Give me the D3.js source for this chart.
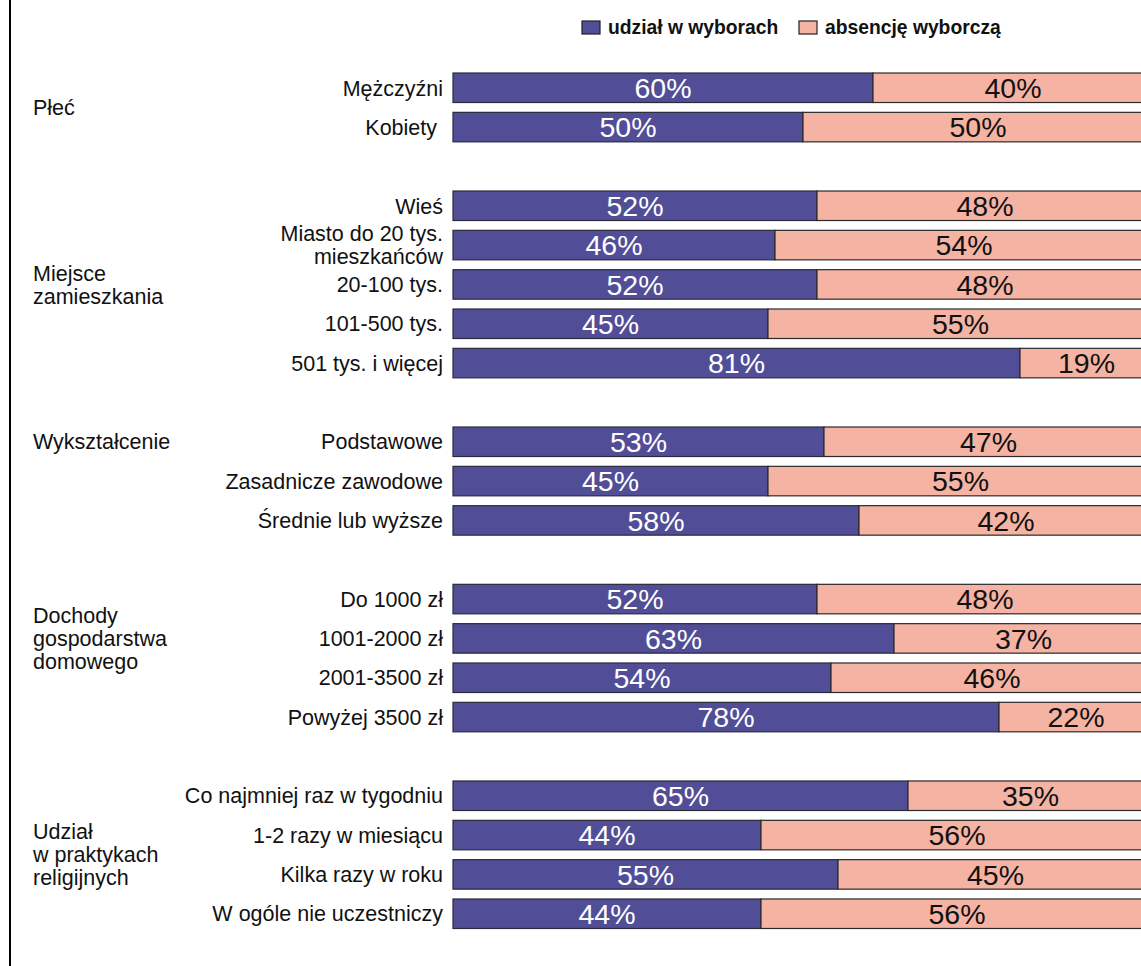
<!DOCTYPE html>
<html>
<head>
<meta charset="utf-8">
<script src="https://cdn.jsdelivr.net/npm/d3@7"></script>
<style>
  html, body { margin: 0; padding: 0; background: #fff; }
  svg { display: block; font-family: "Liberation Sans", Arial, sans-serif; }
</style>
</head>
<body>
<svg id="chart" width="1141" height="966"></svg>
<script>
// ---- data ----
const categories = [
  "Mężczyźni", "Kobiety\u00a0", "",
  "Wieś", "Miasto do 20 tys.\nmieszkańców", "20-100 tys.", "101-500 tys.", "501 tys. i więcej", "",
  "Podstawowe", "Zasadnicze zawodowe", "Średnie lub wyższe", "",
  "Do 1000 zł", "1001-2000 zł", "2001-3500 zł", "Powyżej 3500 zł", "",
  "Co najmniej raz w tygodniu", "1-2 razy w miesiącu", "Kilka razy w roku", "W ogóle nie uczestniczy"
];
const udzial = [60, 50, null, 52, 46, 52, 45, 81, null, 53, 45, 58, null, 52, 63, 54, 78, null, 65, 44, 55, 44];
const absencja = [40, 50, null, 48, 54, 48, 55, 19, null, 47, 55, 42, null, 48, 37, 46, 22, null, 35, 56, 45, 56];
const groups = ["Płeć", "Miejsce\nzamieszkania", "Wykształcenie", "Dochody\ngospodarstwa\ndomowego", "Udział\nw praktykach\nreligijnych"];
const groupAnchorRow = [0.5, 5, 9, 14, 19.5];
const seriesNames = ["udział w wyborach", "absencję wyborczą"];
const colors = ["#514e97", "#f5b3a4"];

// ---- layout ----
const svg = d3.select("#chart");
const x = d3.scaleLinear().domain([0, 100]).range([453, 1153]);
const y = d3.scaleBand().domain(d3.range(categories.length)).range([68.1, 933.4])
  .paddingInner(0.25).paddingOuter(0.125);
const bw = y.bandwidth();
const yc = i => y(i) + bw / 2;
const yAt = r => y(0) + r * y.step() + bw / 2;

// frame line on the left
svg.append("line").attr("x1", 10).attr("x2", 10).attr("y1", 0).attr("y2", 966)
  .attr("stroke", "#000").attr("stroke-width", 2);

const rows = d3.range(categories.length).filter(i => udzial[i] != null);

// bars
const g = svg.append("g");
rows.forEach(i => {
  g.append("rect").attr("x", x(0)).attr("y", y(i)).attr("width", x(udzial[i]) - x(0)).attr("height", bw)
    .attr("fill", colors[0]).attr("stroke", "#2a2a3a").attr("stroke-width", 1.2);
  g.append("rect").attr("x", x(udzial[i])).attr("y", y(i)).attr("width", x(udzial[i] + absencja[i]) - x(udzial[i])).attr("height", bw)
    .attr("fill", colors[1]).attr("stroke", "#2a2a2a").attr("stroke-width", 1.2);
  g.append("text").attr("x", (x(0) + x(udzial[i])) / 2).attr("y", yc(i)).attr("dy", "0.36em")
    .attr("text-anchor", "middle").attr("font-size", 28.5).attr("fill", "#fff").text(udzial[i] + "%");
  g.append("text").attr("x", (x(udzial[i]) + x(udzial[i] + absencja[i])) / 2).attr("y", yc(i)).attr("dy", "0.36em")
    .attr("text-anchor", "middle").attr("font-size", 28.5).attr("fill", "#111").text(absencja[i] + "%");
});

// multi-line text helper: each line is its own text element
function mlText(parent, xPos, yPos, str, lh, fs, anchor) {
  const lines = str.split("\n");
  lines.forEach((l, k) => {
    parent.append("text").attr("x", xPos)
      .attr("y", yPos + (k - (lines.length - 1) / 2) * lh)
      .attr("dy", (0.36 * fs) + "px")
      .attr("text-anchor", anchor).attr("font-size", fs).attr("fill", "#111")
      .style("white-space", "pre")
      .text(l);
  });
}

// category labels
rows.forEach(i => mlText(svg, 443, yc(i), categories[i], 23, 21.5, "end"));

// group labels
groups.forEach((gname, k) => mlText(svg, 33, yAt(groupAnchorRow[k]), gname, 23, 21.5, "start"));

// legend
const legX = [582, 799];
seriesNames.forEach((s, k) => {
  svg.append("rect").attr("x", legX[k]).attr("y", 21).attr("width", 18).attr("height", 13)
    .attr("fill", colors[k]).attr("stroke", "#222").attr("stroke-width", 1.2);
  svg.append("text").attr("x", legX[k] + 26).attr("y", 34).attr("font-size", 19.3).attr("font-weight", "bold")
    .attr("fill", "#111").text(s);
});
</script>
</body>
</html>
